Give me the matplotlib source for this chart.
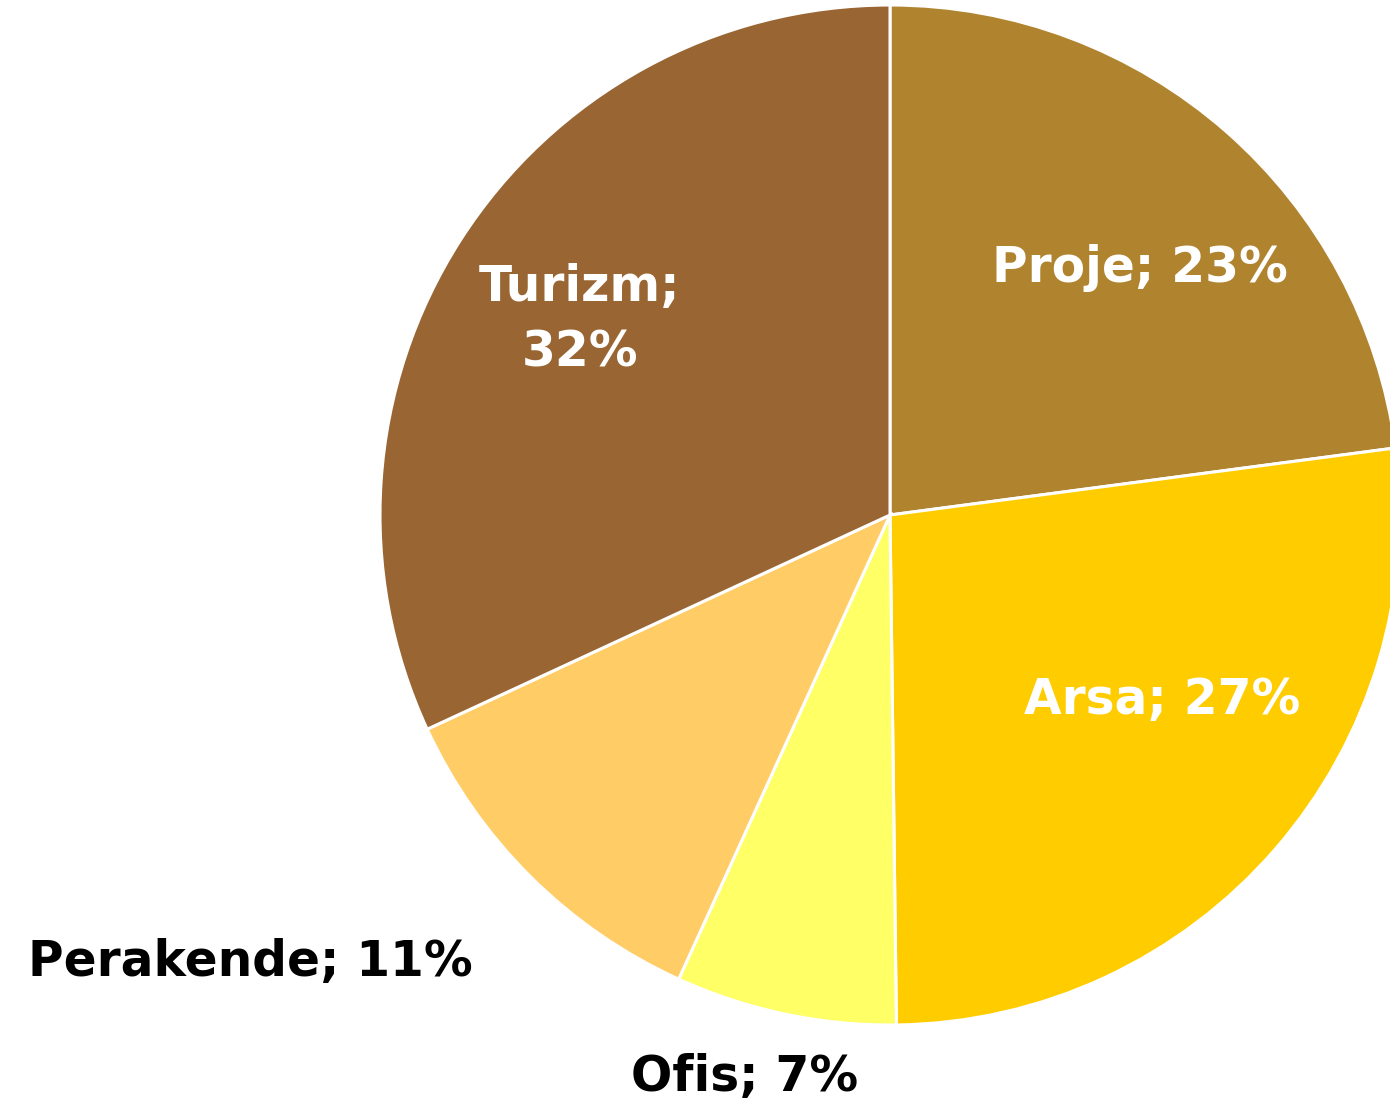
import numpy as np
import matplotlib.pyplot as plt

# Veriler (dilim açıları; etiketler yuvarlanmış yüzdeler)
categories = ['Proje', 'Arsa', 'Ofis', 'Perakende', 'Turizm']
shares = [22.9, 26.9, 7.0, 11.3, 31.9]
colors = ['#B0832F', '#FFCC00', '#FFFF66', '#FFCC66', '#996633']

# Etiket yerleşimi (piksel, sol üst köşe referanslı) ve renkleri
label_pos = [(1140, 268), (1162, 700), (745, 1077), (250, 962), (580, 320)]
label_color = ['white', 'white', 'black', 'black', 'white']

W, H = 1390, 1107
cx, cy, R = 890, 515, 510

fig = plt.figure(figsize=(W / 100, H / 100), dpi=100)
ax = fig.add_axes([0, 0, 1, 1])
ax.axis('off')

ax.pie(shares, colors=colors, startangle=90, counterclock=False,
       radius=R, center=(cx, H - cy),
       wedgeprops=dict(edgecolor='white', linewidth=2.2))
ax.set_xlim(0, W)
ax.set_ylim(0, H)
ax.set_aspect('equal')

total = sum(shares)
for name, val, (x, y), c in zip(categories, shares, label_pos, label_color):
    pct = round(val / total * 100)
    txt = f'{name}; {pct}%' if name != 'Turizm' else f'{name};\n{pct}%'
    ax.text(x, H - y, txt, ha='center', va='center', color=c,
            fontsize=35, fontweight='bold', family='DejaVu Sans',
            linespacing=1.45)

fig.savefig('out.png', dpi=100)
